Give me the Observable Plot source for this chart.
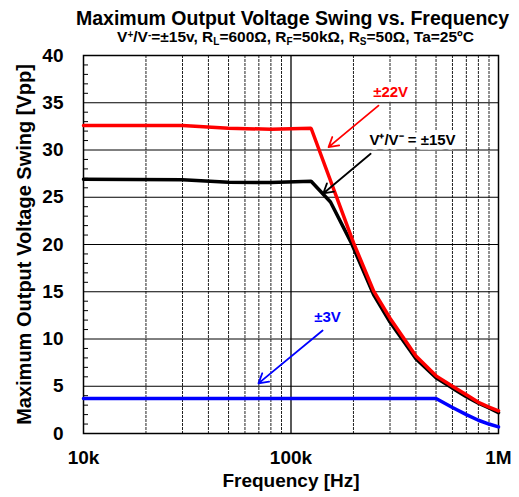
<!DOCTYPE html>
<html>
<head>
<meta charset="utf-8">
<script src="https://cdn.jsdelivr.net/npm/d3@7"></script>
<script src="https://cdn.jsdelivr.net/npm/@observablehq/plot@0.6"></script>
<style>
  body { margin: 0; background: #fff; font-family: Arial, "Liberation Sans", sans-serif; color: #000; }
  #wrap { width: 519px; }
  .title { font-weight: bold; font-size: 19.5px; line-height: 20px; height: 20px; padding-top: 8px; padding-left: 66px; text-align: center; white-space: nowrap; }
  .sub { font-weight: bold; font-size: 15.5px; line-height: 17px; height: 17px; padding-left: 72px; text-align: center; white-space: nowrap; overflow: visible; }
  .sub sub, .sub sup { font-size: 10px; line-height: 0; vertical-align: baseline; position: relative; }
  .sub sup { top: -0.45em; }
  .sub sub { top: 0.3em; }
  #chart svg { display: block; }
</style>
</head>
<body>
<div id="wrap">
  <div class="title">Maximum Output Voltage Swing vs. Frequency</div>
  <div class="sub">V<sup>+</sup>/V<sup>-</sup>=±15v, R<sub>L</sub>=600Ω, R<sub>F</sub>=50kΩ, R<sub>S</sub>=50Ω, Ta=25ºC</div>
  <div id="chart"></div>
</div>
<script>
// Series: ±22V supply (red)
const freq22 = [10000, 30000, 50000, 80000, 125000, 200000, 250000, 300000, 400000, 500000, 600000, 700000, 800000, 900000, 1000000];
const swing22 = [32.6, 32.6, 32.3, 32.2, 32.3, 20.2, 15.1, 12.2, 8.2, 6.1, 5.0, 4.1, 3.3, 2.8, 2.4];

// Series: ±15V supply (black)
const freq15 = [10000, 30000, 50000, 80000, 125000, 155000, 195000, 250000, 300000, 400000, 500000, 600000, 700000, 800000, 900000, 1000000];
const swing15 = [26.9, 26.85, 26.6, 26.55, 26.7, 24.5, 20.2, 14.7, 11.8, 7.9, 5.9, 4.8, 3.9, 3.2, 2.7, 2.2];

// Series: ±3V supply (blue)
const freq3 = [10000, 100000, 500000, 600000, 700000, 800000, 900000, 1000000];
const swing3 = [3.7, 3.7, 3.7, 2.75, 2.0, 1.4, 1.0, 0.7];

// Axis ticks
const xTicks = [10000, 100000, 1000000];
const xTickLabels = ["10k", "100k", "1M"];
const xMinorGrid = [20000, 30000, 40000, 50000, 60000, 70000, 80000, 90000, 200000, 300000, 400000, 500000, 600000, 700000, 800000, 900000];
const xMajorGrid = [100000];
const yTicks = [0, 5, 10, 15, 20, 25, 30, 35, 40];
const yMajorGrid = [5, 10, 15, 20, 25, 30, 35];
const yMinorTicks = d3.range(1, 40).filter(v => v % 5 !== 0);

// Annotations
const annotText = ["±22V", "V\u207A/V\u207B = ±15V", "±3V"];
const annotColor = ["#ff0000", "#000000", "#0000ff"];
const annotFreq = [302000, 385000, 150000];
const annotSwing = [36.1, 31.0, 12.3];
const arrowFromFreq = [264000, 242000, 142000];
const arrowFromSwing = [34.7, 29.6, 10.9];
const arrowToFreq = [151700, 143000, 69700];
const arrowToSwing = [30.3, 25.4, 5.3];

const idx = a => a.map((_, i) => i);
const font = "Arial, 'Liberation Sans', sans-serif";

const chart = Plot.plot({
  width: 519,
  height: 452,
  marginTop: 10,
  marginLeft: 83,
  marginRight: 21,
  marginBottom: 64,
  style: { fontFamily: font, background: "white", color: "black" },
  x: { type: "log", domain: [10000, 1000000] },
  y: { domain: [0, 40] },
  marks: [
    Plot.ruleX(xMinorGrid, { stroke: "#222", strokeWidth: 1, strokeDasharray: "3,1" }),
    Plot.ruleX(xMajorGrid, { stroke: "#000", strokeWidth: 1.3 }),
    Plot.ruleY(yMajorGrid, { stroke: "#000", strokeWidth: 1 }),
    Plot.axisY(yMinorTicks, { tickSize: 5, dx: 5, tickFormat: () => "", label: null, stroke: "#000" }),
    Plot.axisY(yTicks, { tickSize: 0, tickPadding: 20, fontSize: 19, fontWeight: "bold", label: null, fill: "#000" }),
    Plot.axisX(xTicks, { tickSize: 0, tickPadding: 17, fontSize: 19, fontWeight: "bold", label: null, fill: "#000",
      tickFormat: d => xTickLabels[xTicks.indexOf(d)] }),
    Plot.frame({ stroke: "#000", strokeWidth: 1.5 }),
    Plot.line(idx(freq15), { x: i => freq15[i], y: i => swing15[i], stroke: "#000", strokeWidth: 3.5, strokeLinejoin: "miter" }),
    Plot.line(idx(freq22), { x: i => freq22[i], y: i => swing22[i], stroke: "#ff0000", strokeWidth: 3.5, strokeLinejoin: "miter" }),
    Plot.line(idx(freq3), { x: i => freq3[i], y: i => swing3[i], stroke: "#0000ff", strokeWidth: 3.5, strokeLinejoin: "miter" }),
    Plot.text(idx(annotText), { x: i => annotFreq[i], y: i => annotSwing[i], text: i => annotText[i],
      fill: i => annotColor[i], stroke: "white", strokeWidth: 9, fontSize: 15, fontWeight: "bold" }),
    Plot.arrow(idx(annotText), { x1: i => arrowFromFreq[i], y1: i => arrowFromSwing[i], x2: i => arrowToFreq[i], y2: i => arrowToSwing[i],
      stroke: i => annotColor[i], strokeWidth: 1.8, headLength: 9 }),
    Plot.text(["Maximum Output Voltage Swing [Vpp]"], { text: d => d, frameAnchor: "left", textAnchor: "middle", lineAnchor: "middle",
      dx: -59, rotate: -90, fontSize: 20, fontWeight: "bold", fill: "#000" }),
    Plot.text(["Frequency [Hz]"], { text: d => d, frameAnchor: "bottom", dy: 53,
      fontSize: 19, fontWeight: "bold", fill: "#000" })
  ]
});
document.getElementById("chart").appendChild(chart);
</script>
</body>
</html>
